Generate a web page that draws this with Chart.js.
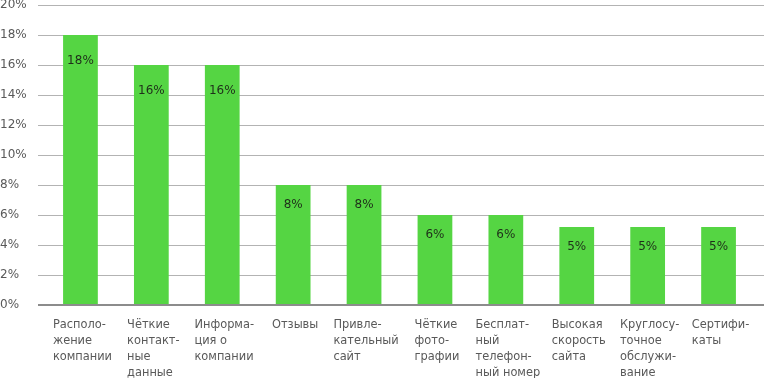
<!DOCTYPE html>
<html>
<head>
<meta charset="utf-8">
<script src="https://cdn.jsdelivr.net/npm/chart.js@4"></script>
<style>
  html, body { margin: 0; padding: 0; background: #fff; }
  #wrap { width: 764px; height: 378px; }
</style>
</head>
<body>
<div id="wrap"><canvas id="chart"></canvas></div>
<script>
// categories, split into lines as in the picture
const categories = [
    ["Располо-", "жение", "компании"],
    ["Чёткие", "контакт-", "ные", "данные"],
    ["Информа-", "ция о", "компании"],
    ["Отзывы"],
    ["Привле-", "кательный", "сайт"],
    ["Чёткие", "фото-", "графии"],
    ["Бесплат-", "ный", "телефон-", "ный номер"],
    ["Высокая", "скорость", "сайта"],
    ["Круглосу-", "точное", "обслужи-", "вание"],
    ["Сертифи-", "каты"],
];
const shares = [18, 16, 16, 8, 8, 6, 6, 5.2, 5.2, 5.2];

const FONT = "DejaVu Sans";
const barColor = "#55d543";
const textColor = "#595959";

// gridlines + zero axis drawn across the full width
const gridPlugin = {
    id: "grid",
    beforeDatasetsDraw(chart) {
        const ctx = chart.ctx;
        const y = chart.scales.y;
        ctx.save();
        y.ticks.forEach((t) => {
            const py = Math.round(y.getPixelForValue(t.value));
            if (t.value === 0) return;
            ctx.strokeStyle = "#b3b3b3";
            ctx.lineWidth = 1;
            ctx.beginPath();
            ctx.moveTo(38, py + 0.5);
            ctx.lineTo(764, py + 0.5);
            ctx.stroke();
        });
        ctx.restore();
    },
    afterDatasetsDraw(chart) {
        const ctx = chart.ctx;
        const py = Math.round(chart.scales.y.getPixelForValue(0));
        ctx.save();
        ctx.fillStyle = "#8c8c8c";
        ctx.fillRect(38, py - 1, 726, 2);
        ctx.restore();
    },
};

// value labels inside bars and category labels under them
const labelPlugin = {
    id: "labels",
    afterDraw(chart) {
        const ctx = chart.ctx;
        const meta = chart.getDatasetMeta(0);
        const xs = chart.scales.x;
        const y0 = chart.scales.y.getPixelForValue(0);
        ctx.save();
        ctx.textBaseline = "middle";

        ctx.font = "12px '" + FONT + "'";
        meta.data.forEach((bar, i) => {
            const v = shares[i];
            ctx.fillStyle = "#1f2f1a";
            ctx.textAlign = "center";
            ctx.fillText(Math.round(v) + "%", bar.x, bar.y + (v >= 10 ? 26 : 20));
        });

        ctx.font = "11.4px '" + FONT + "'";
        ctx.fillStyle = textColor;
        ctx.textAlign = "left";
        categories.forEach((lines, i) => {
            const cx = xs.getPixelForTick(i) + 2;
            const w = Math.max(...lines.map((l) => ctx.measureText(l).width));
            lines.forEach((line, j) => {
                ctx.fillText(line, cx - w / 2, y0 + 20 + j * 16);
            });
        });
        ctx.restore();
    },
};

new Chart(document.getElementById("chart"), {
    type: "bar",
    data: {
        labels: categories.map((c) => c.join(" ")),
        datasets: [
            {
                data: shares,
                backgroundColor: barColor,
                borderWidth: 0,
                categoryPercentage: 1,
                barPercentage: 0.49,
            },
        ],
    },
    options: {
        responsive: true,
        maintainAspectRatio: false,
        animation: false,
        layout: { padding: { top: 0, right: 10, bottom: 0, left: 0 } },
        plugins: {
            legend: { display: false },
            tooltip: { enabled: false },
        },
        scales: {
            x: {
                grid: { display: false },
                border: { display: false },
                ticks: { display: false },
                afterFit: (scale) => { scale.height = 73; },
            },
            y: {
                min: 0,
                max: 20,
                grid: { display: false },
                border: { display: false },
                ticks: {
                    stepSize: 2,
                    crossAlign: "far",
                    color: textColor,
                    font: { family: FONT, size: 12 },
                    callback: (v) => v + "%",
                },
                afterFit: (scale) => {
                    scale.width = 45;
                    scale.paddingTop = 5;
                    scale.paddingBottom = 0;
                },
            },
        },
    },
    plugins: [gridPlugin, labelPlugin],
});
</script>
</body>
</html>
